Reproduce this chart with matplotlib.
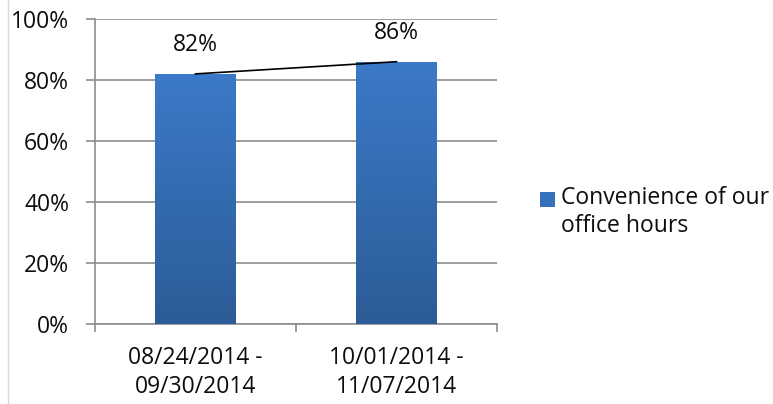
import numpy as np
import matplotlib
matplotlib.use("Agg")
import matplotlib.pyplot as plt
from matplotlib.colors import LinearSegmentedColormap
from matplotlib.patches import Rectangle
from matplotlib.lines import Line2D

periods = ["08/24/2014 -\n09/30/2014", "10/01/2014 -\n11/07/2014"]
scores = [0.82, 0.86]
labels = ["82%", "86%"]
series_name = "Convenience of our\noffice hours"

plt.rcParams["font.family"] = ["Open Sans", "DejaVu Sans"]
FS = 16.5
INK = "#0d0d0d"
GRID = "#8c8c8c"

fig = plt.figure(figsize=(7.73, 4.04), dpi=100)
ax = fig.add_axes([95 / 773, 1 - 324 / 404, (497 - 95) / 773, (324 - 19) / 404])

x = np.arange(len(scores))
bars = ax.bar(x, scores, width=0.4, color="#3570b8", zorder=3)

# vertical gradient inside each bar (light top, dark bottom)
cmap = LinearSegmentedColormap.from_list("bar", ["#2c5c97", "#3b7ac8"])
grad = np.linspace(0, 1, 256).reshape(-1, 1)
for b in bars:
    x0, y0, w, h = b.get_x(), b.get_y(), b.get_width(), b.get_height()
    im = ax.imshow(grad, cmap=cmap, origin="lower", aspect="auto",
                   extent=[x0, x0 + w, y0, y0 + h], zorder=3.5)
    im.set_clip_path(b)

# line joining the bar tops
ax.plot(x, scores, color="black", lw=1.2, zorder=5)

for xi, v, lab in zip(x, scores, labels):
    ax.annotate(lab, (xi, v), xytext=(0, 21), textcoords="offset points",
                ha="center", va="center", fontsize=FS, color=INK)

ax.set_xlim(-0.5, len(scores) - 0.5)
ax.set_ylim(0, 1)
ticks = np.arange(0, 1.01, 0.2)
ax.set_yticks(ticks)
ax.set_yticklabels([f"{int(round(t * 100))}%" for t in ticks])
ax.yaxis.grid(True, color=GRID, lw=1.2, zorder=0)
ax.tick_params(axis="y", length=6.5, width=1.2, color=GRID, pad=12,
               labelsize=FS, labelcolor=INK)

ax.set_xticks(x)
ax.set_xticklabels(periods, fontsize=FS, linespacing=1.25, color=INK)
ax.set_xticks(np.arange(-0.5, len(scores)), minor=True)
ax.tick_params(axis="x", which="major", length=0, pad=16)
ax.tick_params(axis="x", which="minor", length=6, width=1.2, color=GRID)

for s in ("top", "right"):
    ax.spines[s].set_visible(False)
for s in ("left", "bottom"):
    ax.spines[s].set_color(GRID)
    ax.spines[s].set_linewidth(1.2)
ax.set_axisbelow(True)

# legend drawn by hand so the key sits against the first line
fig.patches.append(Rectangle((540 / 773, 1 - 207 / 404), 15 / 773, 15 / 404,
                             transform=fig.transFigure,
                             facecolor="#3672bc", edgecolor="none"))
fig.text(561 / 773, 1 - 186 / 404, series_name, fontsize=FS, va="top", ha="left",
         linespacing=1.2, color=INK)

# faint chart border at left
fig.add_artist(Line2D([8 / 773, 8 / 773], [0, 1], transform=fig.transFigure,
                      color="#d9d9d9", lw=1))

fig.savefig("out.png", dpi=100)
